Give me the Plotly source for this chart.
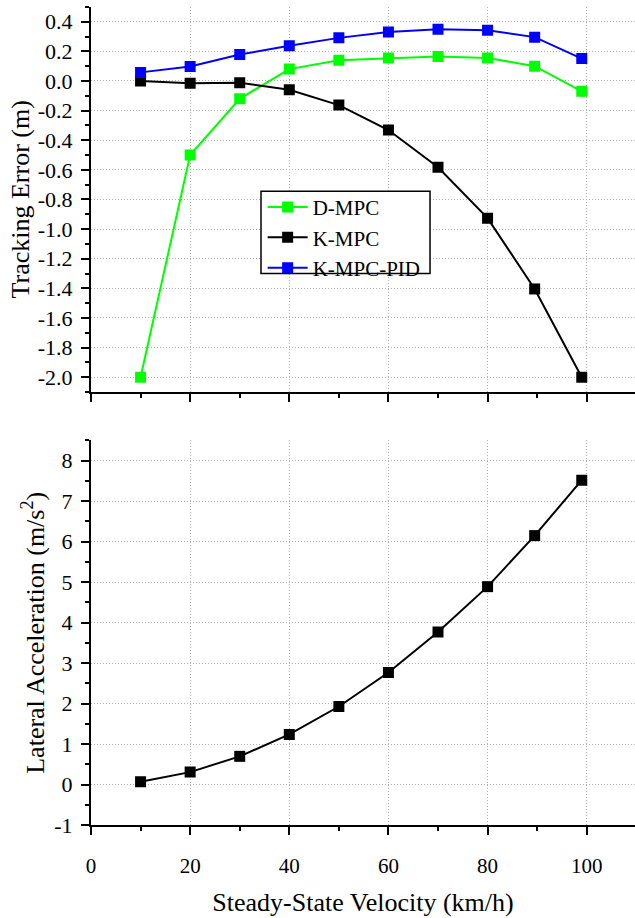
import plotly.graph_objects as go

# ---- data ----
velocity = [10, 20, 30, 40, 50, 60, 70, 80, 89.5, 99]
d_mpc = [-2.0, -0.50, -0.12, 0.08, 0.14, 0.155, 0.165, 0.155, 0.10, -0.07]
k_mpc = [0.0, -0.015, -0.012, -0.059, -0.163, -0.331, -0.582, -0.926, -1.404, -2.0]
k_mpc_pid = [0.058, 0.098, 0.178, 0.238, 0.291, 0.331, 0.349, 0.342, 0.296, 0.151]
lat_acc = [0.07, 0.31, 0.70, 1.24, 1.93, 2.77, 3.77, 4.89, 6.15, 7.52]

top_tick_vals = [0.4, 0.2, 0.0, -0.2, -0.4, -0.6, -0.8, -1.0, -1.2, -1.4, -1.6, -1.8, -2.0]
top_tick_text = ["0.4", "0.2", "0.0", "-0.2", "-0.4", "-0.6", "-0.8", "-1.0", "-1.2", "-1.4", "-1.6", "-1.8", "-2.0"]
bot_tick_vals = [-1, 0, 1, 2, 3, 4, 5, 6, 7, 8]
bot_tick_text = ["-1", "0", "1", "2", "3", "4", "5", "6", "7", "8"]
x_tick_vals = [0, 20, 40, 60, 80, 100]

FONT = "Liberation Serif"
GRID = "#b0b0b0"
GRIDDASH = "1px,2px"

fig = go.Figure()

def add(y, name, color, xa, ya, show=True):
    fig.add_trace(go.Scatter(
        x=velocity, y=y, name=name, mode="lines+markers",
        line=dict(color=color, width=2),
        marker=dict(symbol="square", size=11, color=color, line=dict(width=0)),
        xaxis=xa, yaxis=ya, showlegend=show))

add(d_mpc, "D-MPC", "#00ff00", "x", "y")
add(k_mpc, "K-MPC", "#000000", "x", "y")
add(k_mpc_pid, "K-MPC-PID", "#0000ff", "x", "y")
add(lat_acc, "Lateral", "#000000", "x2", "y2", show=False)

xcommon = dict(
    range=[0, 109.74], showline=True, linecolor="black", linewidth=2,
    ticks="outside", ticklen=8, tickwidth=1.5, tickcolor="black",
    tickvals=x_tick_vals,
    minor=dict(ticks="outside", ticklen=4, tickwidth=1.5, tickcolor="black",
               tickvals=[10, 30, 50, 70, 90], showgrid=False),
    showgrid=True, gridcolor=GRID, griddash=GRIDDASH, gridwidth=1,
    zeroline=False, tickfont=dict(family=FONT, size=21, color="black"),
)

fig.update_layout(
    width=635, height=918,
    margin=dict(l=91, r=0, t=0, b=0),
    paper_bgcolor="white", plot_bgcolor="white",
    font=dict(family=FONT, color="black"),
    xaxis=dict(**xcommon, domain=[0, 1], anchor="y", showticklabels=False),
    xaxis2=dict(**xcommon, domain=[0, 1], anchor="y2",
                ticklabelstandoff=13,
                title=dict(text="Steady-State Velocity (km/h)",
                           font=dict(family=FONT, size=26, color="black"),
                           standoff=15)),
    yaxis=dict(
        domain=[0.5668, 0.9927], range=[-2.1, 0.502],
        showline=True, linecolor="black", linewidth=2,
        ticks="outside", ticklen=8, tickwidth=1.5, tickcolor="black",
        tickvals=top_tick_vals, ticktext=top_tick_text,
        ticklabelstandoff=4,
        minor=dict(ticks="outside", ticklen=4, tickwidth=1.5, tickcolor="black",
                   dtick=0.1, tick0=0, showgrid=False),
        showgrid=True, gridcolor=GRID, griddash=GRIDDASH, gridwidth=1,
        zeroline=False, tickfont=dict(family=FONT, size=22, color="black"),
        title=dict(text="Tracking Error (m)",
                   font=dict(family=FONT, size=26, color="black"), standoff=1),
    ),
    yaxis2=dict(
        domain=[0.0882, 0.5134], range=[-1, 8.502],
        showline=True, linecolor="black", linewidth=2,
        ticks="outside", ticklen=8, tickwidth=1.5, tickcolor="black",
        tickvals=bot_tick_vals, ticktext=bot_tick_text,
        ticklabelstandoff=4,
        minor=dict(ticks="outside", ticklen=4, tickwidth=1.5, tickcolor="black",
                   dtick=0.5, tick0=0, showgrid=False),
        showgrid=True, gridcolor=GRID, griddash=GRIDDASH, gridwidth=1,
        zeroline=False, tickfont=dict(family=FONT, size=22, color="black"),
        title=dict(text="Lateral Acceleration (m/s<sup>2</sup>)",
                   font=dict(family=FONT, size=26, color="black"), standoff=2),
    ),
    legend=dict(
        x=0.3155, y=0.7935, xanchor="left", yanchor="top",
        bgcolor="rgba(0,0,0,0)", borderwidth=0,
        font=dict(family=FONT, size=21, color="black"),
        itemwidth=40, tracegroupgap=0,
    ),
    shapes=[dict(type="rect", xref="paper", yref="paper",
                 x0=0.3125, x1=0.6232, y0=0.6979, y1=0.7887,
                 fillcolor="white", line=dict(color="black", width=1.5),
                 layer="above")],
)

fig.write_html("out.html")
